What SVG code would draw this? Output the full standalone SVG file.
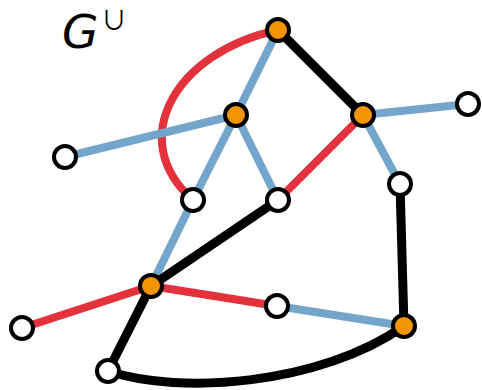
<svg xmlns="http://www.w3.org/2000/svg" width="482" height="390" viewBox="0 0 482 390">
<style>
.e{fill:none;stroke-width:8;stroke-linecap:round}
.r{stroke:#e4323c}
.b{stroke:#74a6cb}
.k{stroke:#000;stroke-width:9}
.n{stroke:#000;stroke-width:4}
.o{fill:#f29500}
.w{fill:#fff}
.t{font-family:"DejaVu Sans",sans-serif;fill:#000}
</style>
<rect width="482" height="390" fill="#fff"/>
<text class="t" x="62" y="48" font-size="47" font-style="italic">G</text>
<text x="101" y="30" font-size="26" font-family="'Noto Sans CJK JP',sans-serif" fill="#000">∪</text>
<g id="edges">
<path class="e r" d="M278,30 C175,52 125,140 193,200"/>
<line class="e b" x1="278" y1="30" x2="236" y2="115"/>
<line class="e k" x1="278" y1="30" x2="363" y2="115"/>
<line class="e b" x1="236" y1="115" x2="65" y2="157"/>
<line class="e b" x1="236" y1="115" x2="193" y2="200"/>
<line class="e b" x1="236" y1="115" x2="278" y2="200"/>
<line class="e r" x1="363" y1="115" x2="278" y2="200"/>
<line class="e b" x1="363" y1="115" x2="468" y2="104"/>
<line class="e b" x1="363" y1="115" x2="400" y2="184"/>
<line class="e k" x1="400" y1="184" x2="404" y2="326"/>
<line class="e b" x1="193" y1="200" x2="151" y2="286"/>
<line class="e k" x1="278" y1="200" x2="151" y2="286"/>
<line class="e r" x1="151" y1="286" x2="22" y2="328"/>
<line class="e r" x1="151" y1="286" x2="277" y2="306"/>
<line class="e b" x1="277" y1="306" x2="404" y2="326"/>
<line class="e k" x1="151" y1="286" x2="108" y2="371"/>
<path class="e k" d="M108,371 C180,395 320,385 404,326"/>
</g>
<g id="n1"><circle class="n o" cx="278" cy="30" r="11"/></g>
<g id="n2"><circle class="n o" cx="236" cy="115" r="11"/></g>
<g id="n3"><circle class="n o" cx="363" cy="115" r="11"/></g>
<g id="n4"><circle class="n w" cx="468" cy="104" r="11"/></g>
<g id="n5"><circle class="n w" cx="65" cy="157" r="11"/></g>
<g id="n6"><circle class="n w" cx="193" cy="200" r="11"/></g>
<g id="n7"><circle class="n w" cx="278" cy="200" r="11"/></g>
<g id="n8"><circle class="n w" cx="400" cy="184" r="11"/></g>
<g id="n9"><circle class="n o" cx="151" cy="286" r="11"/></g>
<g id="n10"><circle class="n w" cx="277" cy="306" r="11"/></g>
<g id="n11"><circle class="n o" cx="404" cy="326" r="11"/></g>
<g id="n12"><circle class="n w" cx="22" cy="328" r="11"/></g>
<g id="n13"><circle class="n w" cx="108" cy="371" r="11"/></g>
</svg>
